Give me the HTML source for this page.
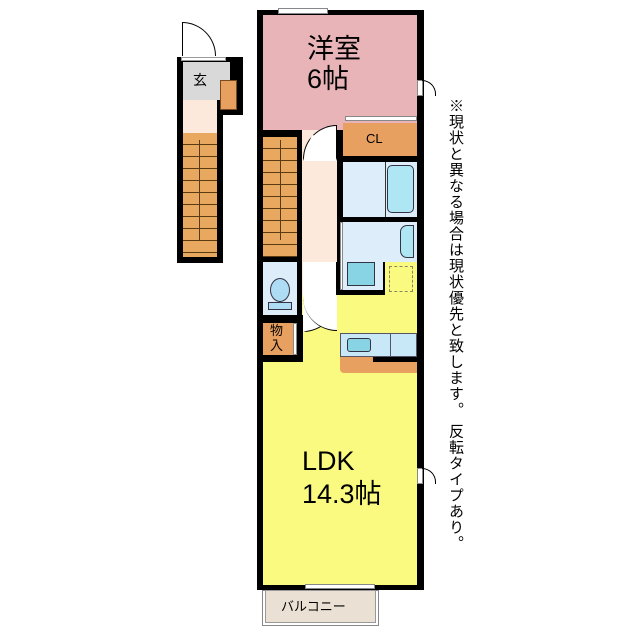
<!DOCTYPE html>
<html><head><meta charset="utf-8"><style>
body{margin:0;width:640px;height:640px;background:#fff;position:relative;overflow:hidden;font-family:"Liberation Sans","Noto Sans CJK JP",sans-serif}
div{position:absolute;box-sizing:border-box}
.k{background:#000}
.st{background:#e8a860;background-image:repeating-linear-gradient(to bottom,transparent 0,transparent 11px,#5a3a10 11px,#5a3a10 12px)}
.t{color:#000}
</style></head><body>
<!-- left building -->
<div class="k" style="left:177px;top:57px;width:46px;height:206px"></div>
<div class="k" style="left:177px;top:57px;width:66px;height:58px"></div>
<div style="left:183px;top:62px;width:47px;height:38px;background:#d9d9d9"></div>
<div class="t" style="left:193px;top:70px;font-size:14px">玄</div>
<div style="left:220px;top:80px;width:17px;height:30px;background:#e8a060;border:1px solid #7a4a20"></div>
<div style="left:183px;top:100px;width:34px;height:33px;background:#fde8dc"></div>
<div class="st" style="left:183px;top:133px;width:34px;height:124px"></div>
<div style="left:199px;top:140px;width:1px;height:100px;background:#5a3a10"></div>
<div style="left:181px;top:57px;width:45px;height:4px;background:#fff;border:1px solid #999"></div>
<div style="left:182px;top:22px;width:34px;height:34px;border:1px solid #000;border-bottom:none;border-left:1px solid #000;border-radius:0 34px 0 0;background:#fff"></div>

<!-- main building -->
<div class="k" style="left:257px;top:10px;width:167px;height:580px"></div>
<div style="left:263px;top:15px;width:154px;height:115px;background:#e8b4b8"></div>
<div style="left:303px;top:125px;width:34px;height:40px;background:#e8b4b8"></div>
<div style="left:278px;top:8px;width:50px;height:6px;background:#fff;border:1px solid #888"></div>
<div class="t" style="left:307px;top:34px;font-size:27px;line-height:30px">洋室<br>6帖</div>
<!-- stairs -->
<div class="st" style="left:263px;top:137px;width:34px;height:120px"></div>
<div style="left:280px;top:140px;width:1px;height:100px;background:#5a3a10"></div>
<!-- hallway -->
<div style="left:302px;top:130px;width:35px;height:165px;background:#fde8dc"></div>
<div style="left:303px;top:125px;width:34px;height:36px;background:#fff;border:1px solid #000;border-radius:34px 0 0 0;border-bottom:3px solid #fff"></div>
<!-- CL -->
<div style="left:343px;top:123px;width:74px;height:33px;background:#e8a060"></div>
<div class="t" style="left:366px;top:131px;font-size:13px">CL</div>
<div style="left:345px;top:116px;width:72px;height:5px;background:#fff;border:1px solid #888"></div>
<!-- bath -->
<div style="left:343px;top:162px;width:74px;height:55px;background:#ddeefa"></div>
<div style="left:387px;top:165px;width:27px;height:48px;background:#aee6f4;border:1.5px solid #334;border-radius:5px"></div>
<div style="left:385px;top:162px;width:1px;height:55px;background:#333"></div>
<!-- washroom -->
<div style="left:343px;top:222px;width:74px;height:40px;background:#ddeefa"></div>
<div style="left:400px;top:225px;width:14px;height:33px;background:#aee6f4;border:1.5px solid #334;border-radius:7px 0 0 7px"></div>
<div style="left:343px;top:258px;width:40px;height:32px;background:#ddeefa"></div>
<div style="left:347px;top:262px;width:28px;height:24px;background:#88d4e4;border:1.5px solid #334"></div>
<div style="left:340px;top:222px;width:3px;height:68px;background:#fff;border:1px solid #888"></div>
<!-- toilet -->
<div style="left:263px;top:262px;width:34px;height:53px;background:#ddeefa"></div>
<div style="left:270px;top:278px;width:20px;height:24px;background:#aedcf4;border:1.5px solid #334;border-radius:50%"></div>
<div style="left:268px;top:302px;width:24px;height:8px;background:#aedcf4;border:1.5px solid #334"></div>
<!-- LDK -->
<div style="left:302px;top:295px;width:115px;height:67px;background:#fafa80"></div>
<div style="left:385px;top:262px;width:32px;height:40px;background:#fafa80"></div>
<div style="left:389px;top:266px;width:24px;height:26px;border:1.5px dashed #886"></div>
<div style="left:263px;top:362px;width:154px;height:223px;background:#fafa80"></div>
<div style="left:293px;top:322px;width:124px;height:45px;background:#fafa80"></div>
<div style="left:303px;top:262px;width:34px;height:70px;background:#fff;border:1px solid #000;border-left:3px solid #fff;border-radius:0 0 34px 0;border-top:none"></div>
<div style="left:303px;top:295px;width:34px;height:36px;background:#fff;border-radius:0 0 0 34px;border-bottom:1px solid #000;border-left:none"></div>
<!-- 物入 -->
<div class="k" style="left:263px;top:315px;width:40px;height:47px"></div>
<div style="left:263px;top:323px;width:30px;height:32px;background:#e8a060"></div>
<div class="t" style="left:270px;top:323px;font-size:13px;line-height:15px">物<br>入</div>
<div style="left:293px;top:323px;width:4px;height:32px;background:#fff;border:1px solid #888"></div>
<!-- kitchen -->
<div style="left:340px;top:333px;width:77px;height:24px;background:#c8e8f8;border:1px solid #556"></div>
<div style="left:347px;top:338px;width:24px;height:14px;background:#88d4e4;border:1.5px solid #334;border-radius:3px"></div>
<div style="left:390px;top:333px;width:1px;height:24px;background:#556"></div>
<div style="left:340px;top:357px;width:77px;height:16px;background:#e8a060;border-radius:0 0 0 4px"></div>
<div class="k" style="left:373px;top:357px;width:44px;height:5px"></div>
<div class="t" style="left:302px;top:445px;font-size:27px;line-height:33px">LDK<br>14.3帖</div>
<!-- right doors -->
<div style="left:417px;top:80px;width:6px;height:16px;background:#fff;border:1px solid #888"></div>
<div style="left:422px;top:80px;width:14px;height:16px;border:1px solid #000;border-left:none;border-radius:0 16px 0 0;border-bottom:none"></div>
<div style="left:417px;top:468px;width:6px;height:16px;background:#fff;border:1px solid #888"></div>
<div style="left:422px;top:468px;width:14px;height:16px;border:1px solid #000;border-left:none;border-radius:0 16px 0 0;border-bottom:none"></div>
<!-- balcony -->
<div style="left:305px;top:584px;width:70px;height:5px;background:#fff;border:1px solid #888"></div>
<div style="left:262px;top:590px;width:117px;height:36px;background:#fff;border:1px solid #888"></div>
<div style="left:265px;top:590px;width:111px;height:33px;background:#ebe0d4;border:1px solid #999"></div>
<div class="t" style="left:281px;top:596px;font-size:13px">バルコニー</div>
<!-- note -->
<div class="t" style="left:446px;top:98px;font-size:15px;line-height:18px;writing-mode:vertical-rl;letter-spacing:1px">※現状と異なる場合は現状優先と致します。 反転タイプあり。</div>
</body></html>
